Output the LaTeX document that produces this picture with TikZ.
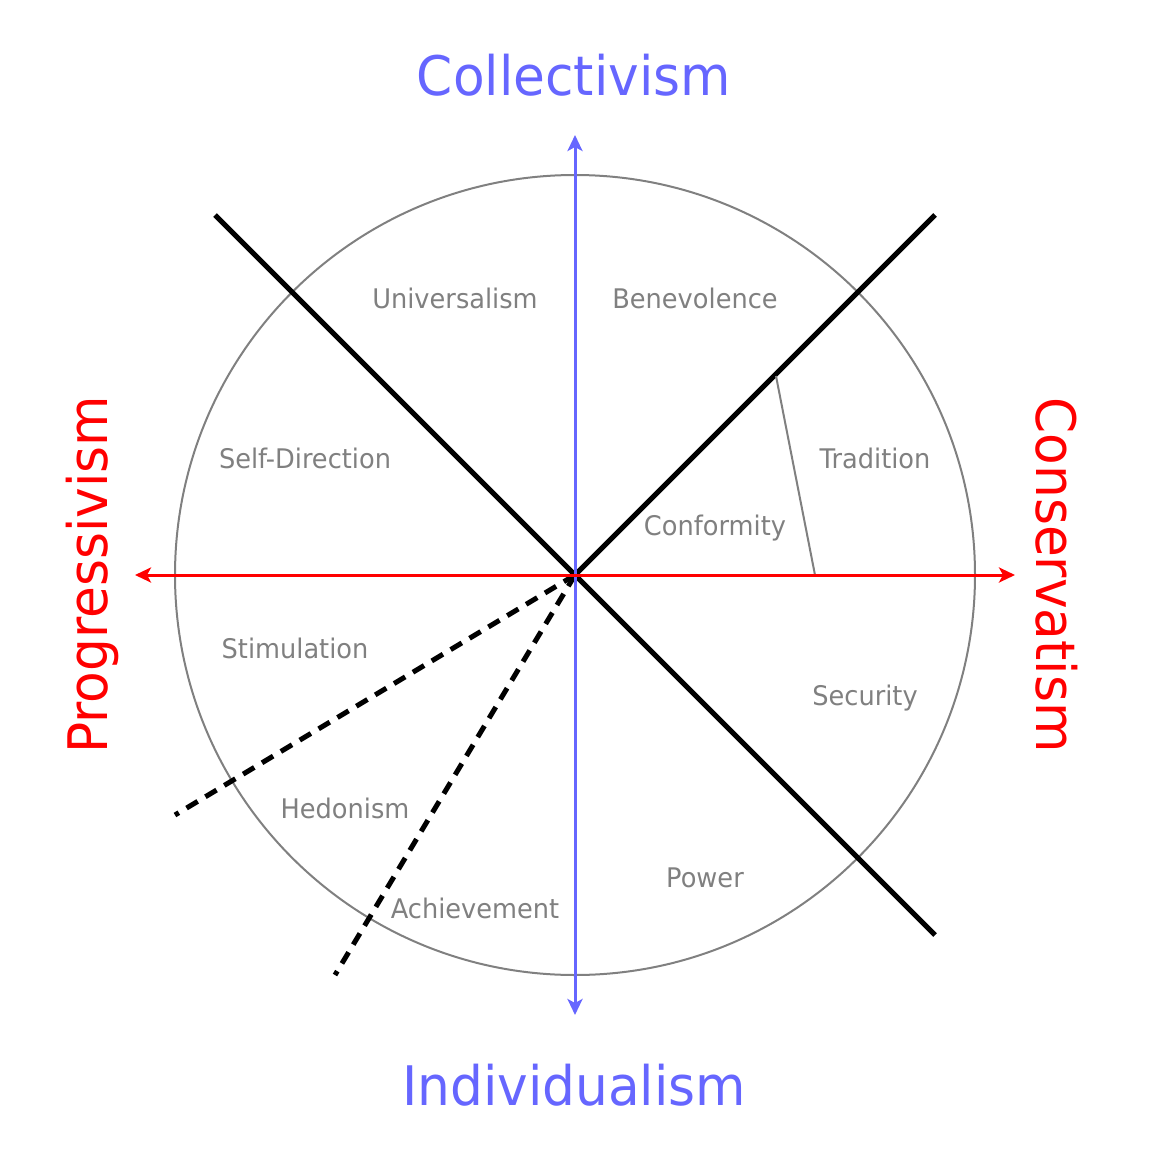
\documentclass[tikz,border=0pt]{standalone}
\usepackage{fontspec}
\setmainfont{DejaVu Sans}[FakeStretch=0.95]
\usetikzlibrary{arrows.meta}
\definecolor{cblue}{HTML}{6666FF}
\definecolor{cred}{HTML}{FF0000}
\definecolor{cgray}{HTML}{808080}
\tikzset{
  lbl/.style={text=cgray, font=\fontsize{27}{30}\selectfont, inner sep=0pt, anchor=center},
  ttl/.style={font=\fontsize{54.5}{60}\selectfont, inner sep=0pt, anchor=center},
  divider/.style={black, line width=5pt},
  dashdiv/.style={black, line width=5pt, dash pattern=on 13pt off 9pt},
  axis/.style={line width=3pt, {Stealth[length=16pt,width=15pt,inset=4pt]}-{Stealth[length=16pt,width=15pt,inset=4pt]}},
}
\begin{document}
\begin{tikzpicture}[x=1pt,y=-1pt]
\useasboundingbox (0,0) rectangle (1151,1151);
\coordinate (c) at (575,575);
\node[draw=cgray, line width=2pt, circle, minimum size=800pt, inner sep=0pt] (circ) at (c) {};
% dividers
\coordinate (nw) at (215,215);
\coordinate (se) at (935,935);
\coordinate (ne) at (935,215);
\coordinate (d1) at (175,815);
\coordinate (d2) at (335,975);
\coordinate (t1) at (776,376);
\coordinate (t2) at (815,575);
\draw[divider] (nw) -- (se);
\draw[divider] (c) -- (ne);
\draw[dashdiv] (c) -- (d1);
\draw[dashdiv] (c) -- (d2);
\draw[cgray, line width=2pt] (t1) -- (t2);
% axes
\coordinate (top) at (575,135);
\coordinate (bot) at (575,1015);
\coordinate (lft) at (135,575);
\coordinate (rgt) at (1015,575);
\draw[axis, cblue] (bot) -- (top);
\draw[axis, cred] (lft) -- (rgt);
% titles
\node[ttl, text=cblue] (coll) at (574,75) {Collectivism};
\node[ttl, text=cblue] (indiv) at (574,1085) {Individualism};
\node[ttl, text=cred, rotate=90] (prog) at (92,575) {Progressivism};
\node[ttl, text=cred, rotate=-90] (cons) at (1057,575) {Conservatism};
% labels
\node[lbl] (univ) at (455,298) {Universalism};
\node[lbl] (bene) at (695,298) {Benevolence};
\node[lbl] (self) at (305,458) {Self-Direction};
\node[lbl] (trad) at (875,458) {Tradition};
\node[lbl] (conf) at (715,528) {Conformity};
\node[lbl] (stim) at (295,648) {Stimulation};
\node[lbl] (secu) at (865,698) {Security};
\node[lbl] (hedo) at (345,808) {Hedonism};
\node[lbl] (powr) at (705,878) {Power};
\node[lbl] (achv) at (475,908) {Achievement};
\end{tikzpicture}
\end{document}
